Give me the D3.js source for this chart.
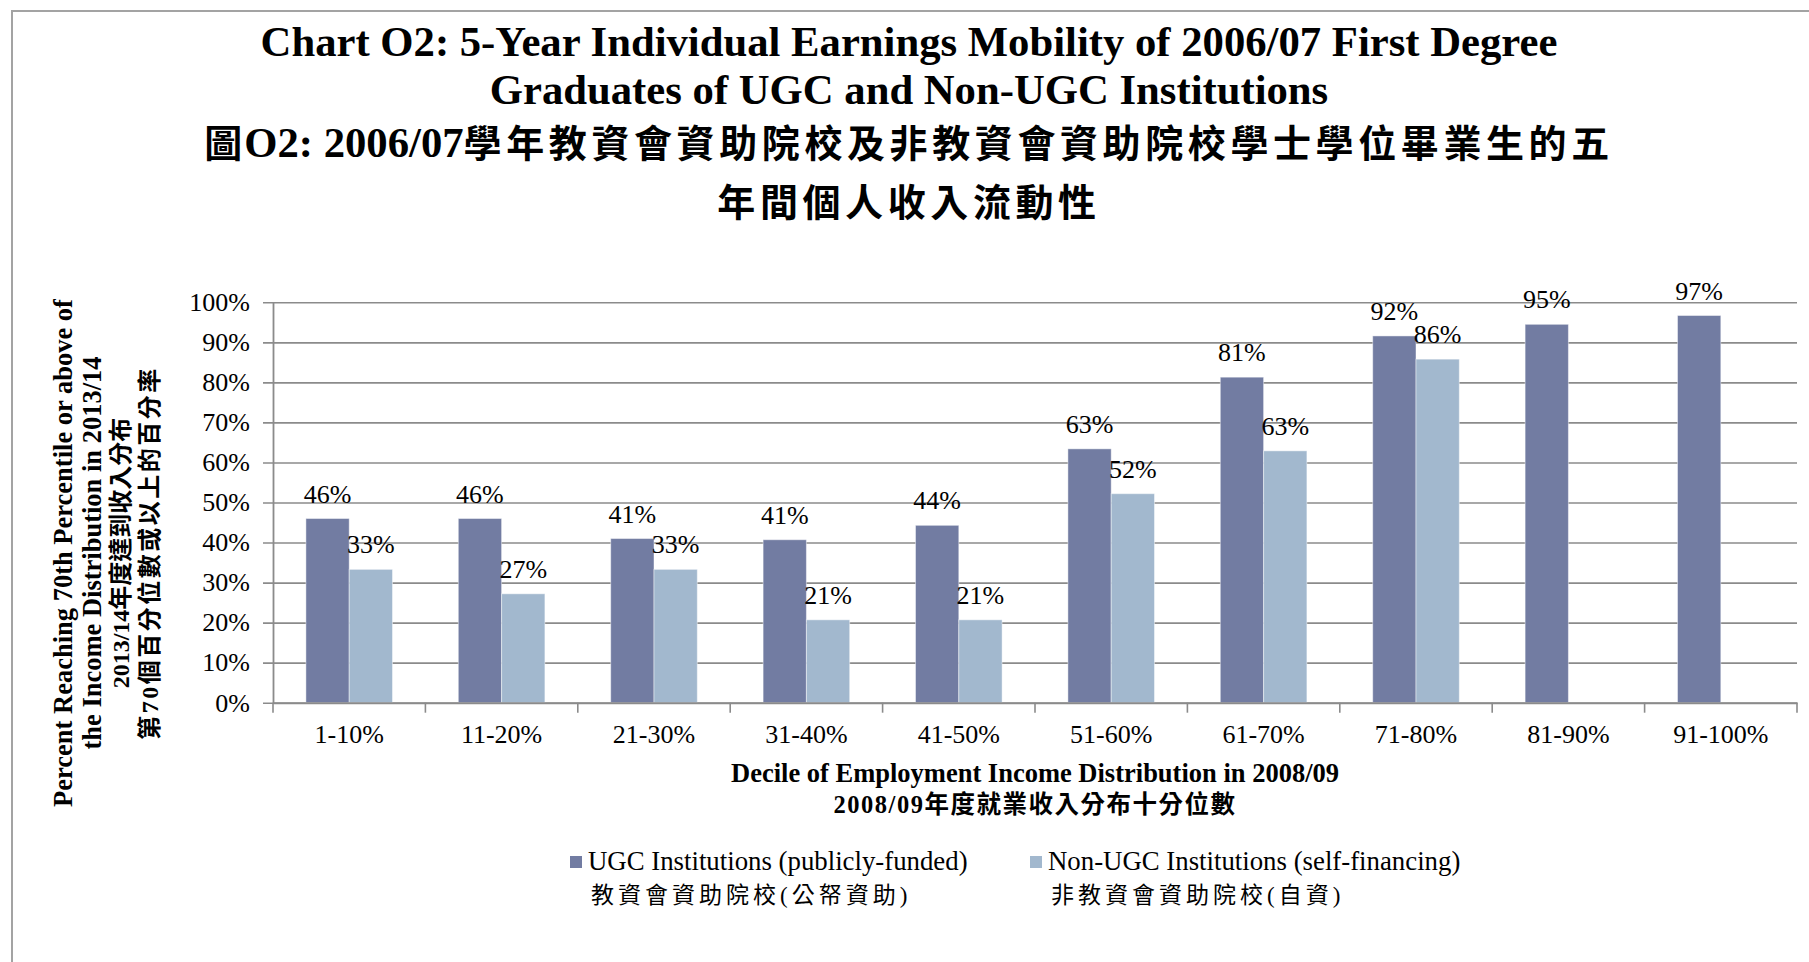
<!DOCTYPE html>
<html>
<head>
<meta charset="utf-8">
<script src="https://cdn.jsdelivr.net/npm/d3@7"></script>
<style>
body { margin: 0; background: #fff; }
svg { display: block; }
text { font-family: "Liberation Serif", "Noto Sans CJK TC", serif; fill: #000; }
</style>
</head>
<body>
<svg id="chart" width="1809" height="962"></svg>
<script>
// ---- data ----
var deciles = ["1-10%", "11-20%", "21-30%", "31-40%", "41-50%", "51-60%", "61-70%", "71-80%", "81-90%", "91-100%"];
var ugcValues = [0.46, 0.46, 0.41, 0.407, 0.443, 0.634, 0.813, 0.916, 0.945, 0.967];
var nonUgcValues = [0.333, 0.272, 0.333, 0.207, 0.207, 0.522, 0.629, 0.858, null, null];
var yTicks = [0, 0.1, 0.2, 0.3, 0.4, 0.5, 0.6, 0.7, 0.8, 0.9, 1.0];
var seriesKeys = ["ugc", "nonUgc"];
var legendEn = ["UGC Institutions (publicly-funded)", "Non-UGC Institutions (self-financing)"];
var legendZh = ["教資會資助院校(公帑資助)", "非教資會資助院校(自資)"];

// 绘制选项
var options = {
    plotLeft: 273, plotRight: 1797, plotTop: 302.3, plotBottom: 702.7,
    gridColor: "#8b8b8b",
    colors: { ugc: "#727ca2", nonUgc: "#a2b8ce" },
    titleX: 909
};

var svg = d3.select("#chart");

// outer frame (right / bottom edges lie outside the picture)
svg.append("rect")
    .attr("x", 12).attr("y", 11)
    .attr("width", 1840).attr("height", 1000)
    .attr("fill", "none")
    .attr("stroke", "#a3a3a3")
    .attr("stroke-width", 2);

// ---- title ----
var title = svg.append("g").attr("text-anchor", "middle").attr("font-weight", "bold");
title.append("text").attr("x", options.titleX).attr("y", 56).attr("font-size", 42.7)
    .text("Chart O2: 5-Year Individual Earnings Mobility of 2006/07 First Degree");
title.append("text").attr("x", options.titleX).attr("y", 104).attr("font-size", 42.7)
    .text("Graduates of UGC and Non-UGC Institutions");
var t3 = title.append("text").attr("x", options.titleX).attr("y", 157).attr("font-size", 38);
t3.append("tspan").attr("letter-spacing", 2).text("圖");
t3.append("tspan").attr("font-size", 42.7).text("O2: 2006/07");
t3.append("tspan").attr("letter-spacing", 4.6).text("學年教資會資助院校及非教資會資助院校學士學位畢業生的五");
title.append("text").attr("x", options.titleX).attr("y", 216).attr("font-size", 38)
    .attr("letter-spacing", 4.6)
    .text("年間個人收入流動性");

// ---- scales ----
var x0 = d3.scaleBand().domain(deciles).range([options.plotLeft, options.plotRight]);
var x1 = d3.scaleBand().domain(seriesKeys).range([0, x0.bandwidth()]).paddingOuter(0.76);
var y = d3.scaleLinear().domain([0, 1]).range([options.plotBottom, options.plotTop]);
var plotW = options.plotRight - options.plotLeft;

// ---- y axis + gridlines ----
var yAxis = d3.axisLeft(y)
    .tickValues(yTicks)
    .tickFormat(d3.format(".0%"))
    .tickSize(10)
    .tickSizeOuter(0)
    .tickPadding(13);
var yG = svg.append("g")
    .attr("transform", "translate(" + options.plotLeft + ",0)")
    .call(yAxis);
yG.selectAll(".tick line")
    .attr("x1", -10).attr("x2", plotW)
    .attr("stroke", options.gridColor).attr("stroke-width", 1.6);
yG.select(".domain").attr("stroke", options.gridColor).attr("stroke-width", 1.8);
yG.selectAll(".tick text")
    .attr("font-size", 26)
    .attr("font-family", "Liberation Serif")
    .attr("fill", "#000");

// ---- bars ----
var rows = deciles.map(function (d, i) {
    return { decile: d, ugc: ugcValues[i], nonUgc: nonUgcValues[i] };
});
var groups = svg.append("g").selectAll("g")
    .data(rows)
    .enter().append("g")
    .attr("transform", function (d) { return "translate(" + x0(d.decile) + ",0)"; });

var cells = groups.selectAll("g.cell")
    .data(function (d) {
        return seriesKeys.map(function (k) { return { key: k, value: d[k] }; })
            .filter(function (c) { return c.value != null; });
    })
    .enter().append("g").attr("class", "cell");

cells.append("rect")
    .attr("x", function (d) { return x1(d.key); })
    .attr("y", function (d) { return y(d.value); })
    .attr("width", x1.bandwidth())
    .attr("height", function (d) { return y(0) - y(d.value); })
    .attr("fill", function (d) { return options.colors[d.key]; })
    .attr("stroke", "rgba(255,255,255,0.45)")
    .attr("stroke-width", 1);

// data labels
cells.append("text")
    .attr("x", function (d) { return x1(d.key) + x1.bandwidth() / 2; })
    .attr("y", function (d) { return y(d.value) - 16; })
    .attr("text-anchor", "middle")
    .attr("font-size", 26)
    .text(function (d) { return Math.round(d.value * 100) + "%"; });

// ---- x axis ----
var xAxis = d3.axisBottom(x0).tickSize(0).tickPadding(22);
var xG = svg.append("g")
    .attr("transform", "translate(0," + options.plotBottom + ")")
    .call(xAxis);
xG.select(".domain").attr("stroke", options.gridColor).attr("stroke-width", 2);
xG.selectAll(".tick text")
    .attr("font-size", 26)
    .attr("font-family", "Liberation Serif")
    .attr("fill", "#000");
// tick marks sit on the category boundaries
var bounds = deciles.map(function (d) { return x0(d); }).concat([options.plotRight]);
xG.selectAll("line.bound")
    .data(bounds)
    .enter().append("line")
    .attr("class", "bound")
    .attr("x1", function (d) { return d; }).attr("x2", function (d) { return d; })
    .attr("y1", 0).attr("y2", 10)
    .attr("stroke", options.gridColor).attr("stroke-width", 1.6);

// ---- axis titles ----
var xTitle = svg.append("g").attr("text-anchor", "middle").attr("font-weight", "bold");
xTitle.append("text").attr("x", (options.plotLeft + options.plotRight) / 2).attr("y", 782)
    .attr("font-size", 26.5)
    .text("Decile of Employment Income Distribution in 2008/09");
xTitle.append("text").attr("x", (options.plotLeft + options.plotRight) / 2).attr("y", 813)
    .attr("font-size", 24.5)
    .attr("letter-spacing", 1.5)
    .text("2008/09年度就業收入分布十分位數");

var yTitleLines = [
    { text: "Percent Reaching 70th Percentile or above of", x: 63, size: 26.5, ls: 0 },
    { text: "the Income Distribution in 2013/14", x: 92, size: 26.5, ls: 0 },
    { text: "2013/14年度達到收入分布", x: 121, size: 24, ls: 0 },
    { text: "第70個百分位數或以上的百分率", x: 150, size: 24, ls: 2.5 }
];
svg.append("g").attr("font-weight", "bold").attr("text-anchor", "middle")
    .selectAll("text")
    .data(yTitleLines)
    .enter().append("text")
    .attr("transform", function (d) { return "translate(" + d.x + ",553) rotate(-90)"; })
    .attr("dominant-baseline", "central")
    .attr("font-size", function (d) { return d.size; })
    .attr("letter-spacing", function (d) { return d.ls; })
    .text(function (d) { return d.text; });

// ---- legend ----
var legendX = [570, 1030];
var legend = svg.append("g").selectAll("g")
    .data(seriesKeys)
    .enter().append("g")
    .attr("transform", function (d, i) { return "translate(" + legendX[i] + ",856)"; });
legend.append("rect")
    .attr("width", 12).attr("height", 12)
    .attr("fill", function (d) { return options.colors[d]; });
legend.append("text")
    .attr("x", 18).attr("y", 14)
    .attr("font-size", 26.8)
    .text(function (d, i) { return legendEn[i]; });
legend.append("text")
    .attr("x", 21).attr("y", 47)
    .attr("font-size", 23)
    .attr("letter-spacing", 4)
    .text(function (d, i) { return legendZh[i]; });
</script>
</body>
</html>
